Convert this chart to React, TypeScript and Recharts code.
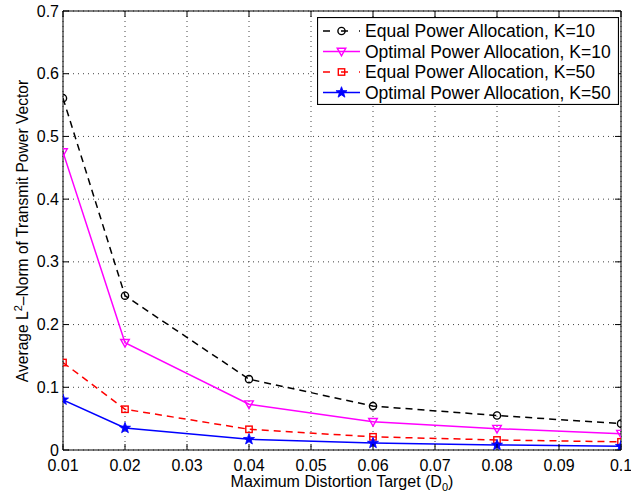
import React from 'react';
import { LineChart, Line, XAxis, YAxis, CartesianGrid, Legend } from 'recharts';

const xValues = [0.01, 0.02, 0.04, 0.06, 0.08, 0.1];
const equalK10 = [0.561, 0.246, 0.113, 0.070, 0.055, 0.042];
const optimalK10 = [0.475, 0.171, 0.073, 0.045, 0.034, 0.026];
const equalK50 = [0.1395, 0.065, 0.033, 0.021, 0.016, 0.013];
const optimalK50 = [0.080, 0.035, 0.017, 0.011, 0.008, 0.006];

const xTicks = [0.01, 0.02, 0.03, 0.04, 0.05, 0.06, 0.07, 0.08, 0.09, 0.1];
const yTicks = [0, 0.1, 0.2, 0.3, 0.4, 0.5, 0.6, 0.7];
const seriesNames = [
  'Equal Power Allocation, K=10',
  'Optimal Power Allocation, K=10',
  'Equal Power Allocation, K=50',
  'Optimal Power Allocation, K=50',
];

const data = xValues.map((x, i) => ({
  x,
  eq10: equalK10[i],
  op10: optimalK10[i],
  eq50: equalK50[i],
  op50: optimalK50[i],
}));

const FONT = 'Liberation Sans, Arial, Helvetica, sans-serif';

type Marker = 'circle' | 'triangle' | 'square' | 'star';

function starPath(cx: number, cy: number, ro: number, ri: number) {
  let d = '';
  for (let k = 0; k < 10; k++) {
    const r = k % 2 === 0 ? ro : ri;
    const a = -Math.PI / 2 + (k * Math.PI) / 5;
    d += (k === 0 ? 'M' : 'L') + (cx + r * Math.cos(a)).toFixed(2) + ',' + (cy + r * Math.sin(a)).toFixed(2);
  }
  return d + 'Z';
}

function drawMarker(kind: Marker, cx: number, cy: number, color: string, key?: string) {
  if (kind === 'circle') {
    return <circle key={key} cx={cx} cy={cy} r={3.6} fill="none" stroke={color} strokeWidth={1.4} />;
  }
  if (kind === 'triangle') {
    return (
      <path key={key} d={`M${cx - 4.3},${cy - 3.3}L${cx + 4.3},${cy - 3.3}L${cx},${cy + 4.3}Z`} fill="none" stroke={color} strokeWidth={1.4} />
    );
  }
  if (kind === 'square') {
    return <rect key={key} x={cx - 3.2} y={cy - 3.2} width={6.4} height={6.4} fill="none" stroke={color} strokeWidth={1.4} />;
  }
  return <path key={key} d={starPath(cx, cy, 5.8, 2.4)} fill={color} stroke={color} strokeWidth={0.8} />;
}

const makeDot = (kind: Marker, color: string) => (props: any) => {
  const { cx, cy, index } = props;
  if (cx == null || cy == null) return <g key={`d${index}`} />;
  return <g key={`d${index}`}>{drawMarker(kind, cx, cy, color)}</g>;
};

const series = [
  { key: 'eq10', name: seriesNames[0], color: '#000000', dash: '7 5', marker: 'circle' as Marker },
  { key: 'op10', name: seriesNames[1], color: '#ff00ff', dash: undefined, marker: 'triangle' as Marker },
  { key: 'eq50', name: seriesNames[2], color: '#ff0000', dash: '7 5', marker: 'square' as Marker },
  { key: 'op50', name: seriesNames[3], color: '#0000ff', dash: undefined, marker: 'star' as Marker },
];

const fmt = (v: number) => (v === 0 ? '0' : String(Number(v.toFixed(2))));

const BottomTick = (props: any) => {
  const { x, y, payload } = props;
  return (
    <g>
      <line x1={x} y1={y} x2={x} y2={y - 6} stroke="#000" strokeWidth={1} />
      <text x={x} y={y + 20.5} textAnchor="middle" fontSize={16} fontFamily={FONT} fill="#000">
        {fmt(payload.value)}
      </text>
    </g>
  );
};

const TopTick = (props: any) => {
  const { x, y } = props;
  return <line x1={x} y1={y} x2={x} y2={y + 6} stroke="#000" strokeWidth={1} />;
};

const LeftTick = (props: any) => {
  const { x, y, payload } = props;
  return (
    <g>
      <line x1={x} y1={y} x2={x + 6} y2={y} stroke="#000" strokeWidth={1} />
      <text x={x - 4} y={y + 5.5} textAnchor="end" fontSize={16} fontFamily={FONT} fill="#000">
        {fmt(payload.value)}
      </text>
    </g>
  );
};

const RightTick = (props: any) => {
  const { x, y } = props;
  return <line x1={x} y1={y} x2={x - 6} y2={y} stroke="#000" strokeWidth={1} />;
};

const LegendBox = () => {
  const w = 302;
  const h = 88;
  return (
    <svg width={w} height={h} style={{ display: 'block' }}>
      <rect x={0.5} y={0.5} width={w - 1} height={h - 1} fill="#fff" stroke="#000" strokeWidth={1.2} />
      {series.map((s, i) => {
        const cy = 14 + i * 20.5;
        return (
          <g key={s.key}>
            <line x1={6} y1={cy} x2={43} y2={cy} stroke={s.color} strokeWidth={1.5} strokeDasharray={s.dash ? '7 11' : undefined} />
            {drawMarker(s.marker, 24.5, cy, s.color)}
            <text x={48} y={cy + 6} fontSize={17.5} fontFamily={FONT} fill="#000">
              {s.name}
            </text>
          </g>
        );
      })}
    </svg>
  );
};

export default function App() {
  return (
    <div style={{ position: 'absolute', left: 0, top: 0, width: 631, height: 495, background: '#fff' }}>
      <LineChart width={631} height={495} data={data} margin={{ top: 10, right: 9, bottom: 0, left: 0 }}>
        <CartesianGrid xAxisId="b" yAxisId="l" stroke="#444" strokeDasharray="1 4" strokeWidth={1} />
        <XAxis
          xAxisId="b"
          dataKey="x"
          type="number"
          domain={[0.01, 0.1]}
          ticks={xTicks}
          allowDataOverflow
          height={45}
          stroke="#000"
          strokeWidth={1}
          tickLine={false}
          tickSize={0}
          tickMargin={0}
          tick={<BottomTick />}
          interval={0}
        />
        <XAxis
          xAxisId="t"
          dataKey="x"
          type="number"
          orientation="top"
          domain={[0.01, 0.1]}
          ticks={xTicks}
          allowDataOverflow
          height={1}
          stroke="#000"
          tickLine={false}
          tickSize={0}
          tickMargin={0}
          tick={<TopTick />}
          interval={0}
        />
        <YAxis
          yAxisId="l"
          type="number"
          domain={[0, 0.7]}
          ticks={yTicks}
          allowDataOverflow
          width={63}
          stroke="#000"
          tickLine={false}
          tickSize={0}
          tickMargin={0}
          tick={<LeftTick />}
          interval={0}
        />
        <YAxis
          yAxisId="r"
          type="number"
          orientation="right"
          domain={[0, 0.7]}
          ticks={yTicks}
          allowDataOverflow
          width={1}
          stroke="#000"
          tickLine={false}
          tickSize={0}
          tickMargin={0}
          tick={<RightTick />}
          interval={0}
        />
        {series.map((s) => (
          <Line
            key={s.key}
            xAxisId="b"
            yAxisId="l"
            dataKey={s.key}
            name={s.name}
            stroke={s.color}
            strokeWidth={1.5}
            strokeDasharray={s.dash}
            type="linear"
            dot={makeDot(s.marker, s.color)}
            activeDot={false}
            isAnimationActive={false}
          />
        ))}
        <Legend
          layout="vertical"
          align="center"
          verticalAlign="middle"
          wrapperStyle={{ position: 'absolute', left: 317, top: 17, width: 302, height: 88 }}
          content={() => <LegendBox />}
        />
      </LineChart>
      <svg width={631} height={495} style={{ position: 'absolute', left: 0, top: 0, pointerEvents: 'none' }}>
        <text x={342} y={487} textAnchor="middle" fontSize={16} fontFamily={FONT} fill="#000">
          Maximum Distortion Target (D
          <tspan fontSize={11} dy={4}>0</tspan>
          <tspan dy={-4}>)</tspan>
        </text>
        <text
          transform="translate(27.5,231) rotate(-90)"
          textAnchor="middle"
          fontSize={15.6}
          fontFamily={FONT}
          fill="#000"
        >
          Average L
          <tspan fontSize={11} dy={-6}>2</tspan>
          <tspan dy={6}>–Norm of Transmit Power Vector</tspan>
        </text>
      </svg>
    </div>
  );
}
